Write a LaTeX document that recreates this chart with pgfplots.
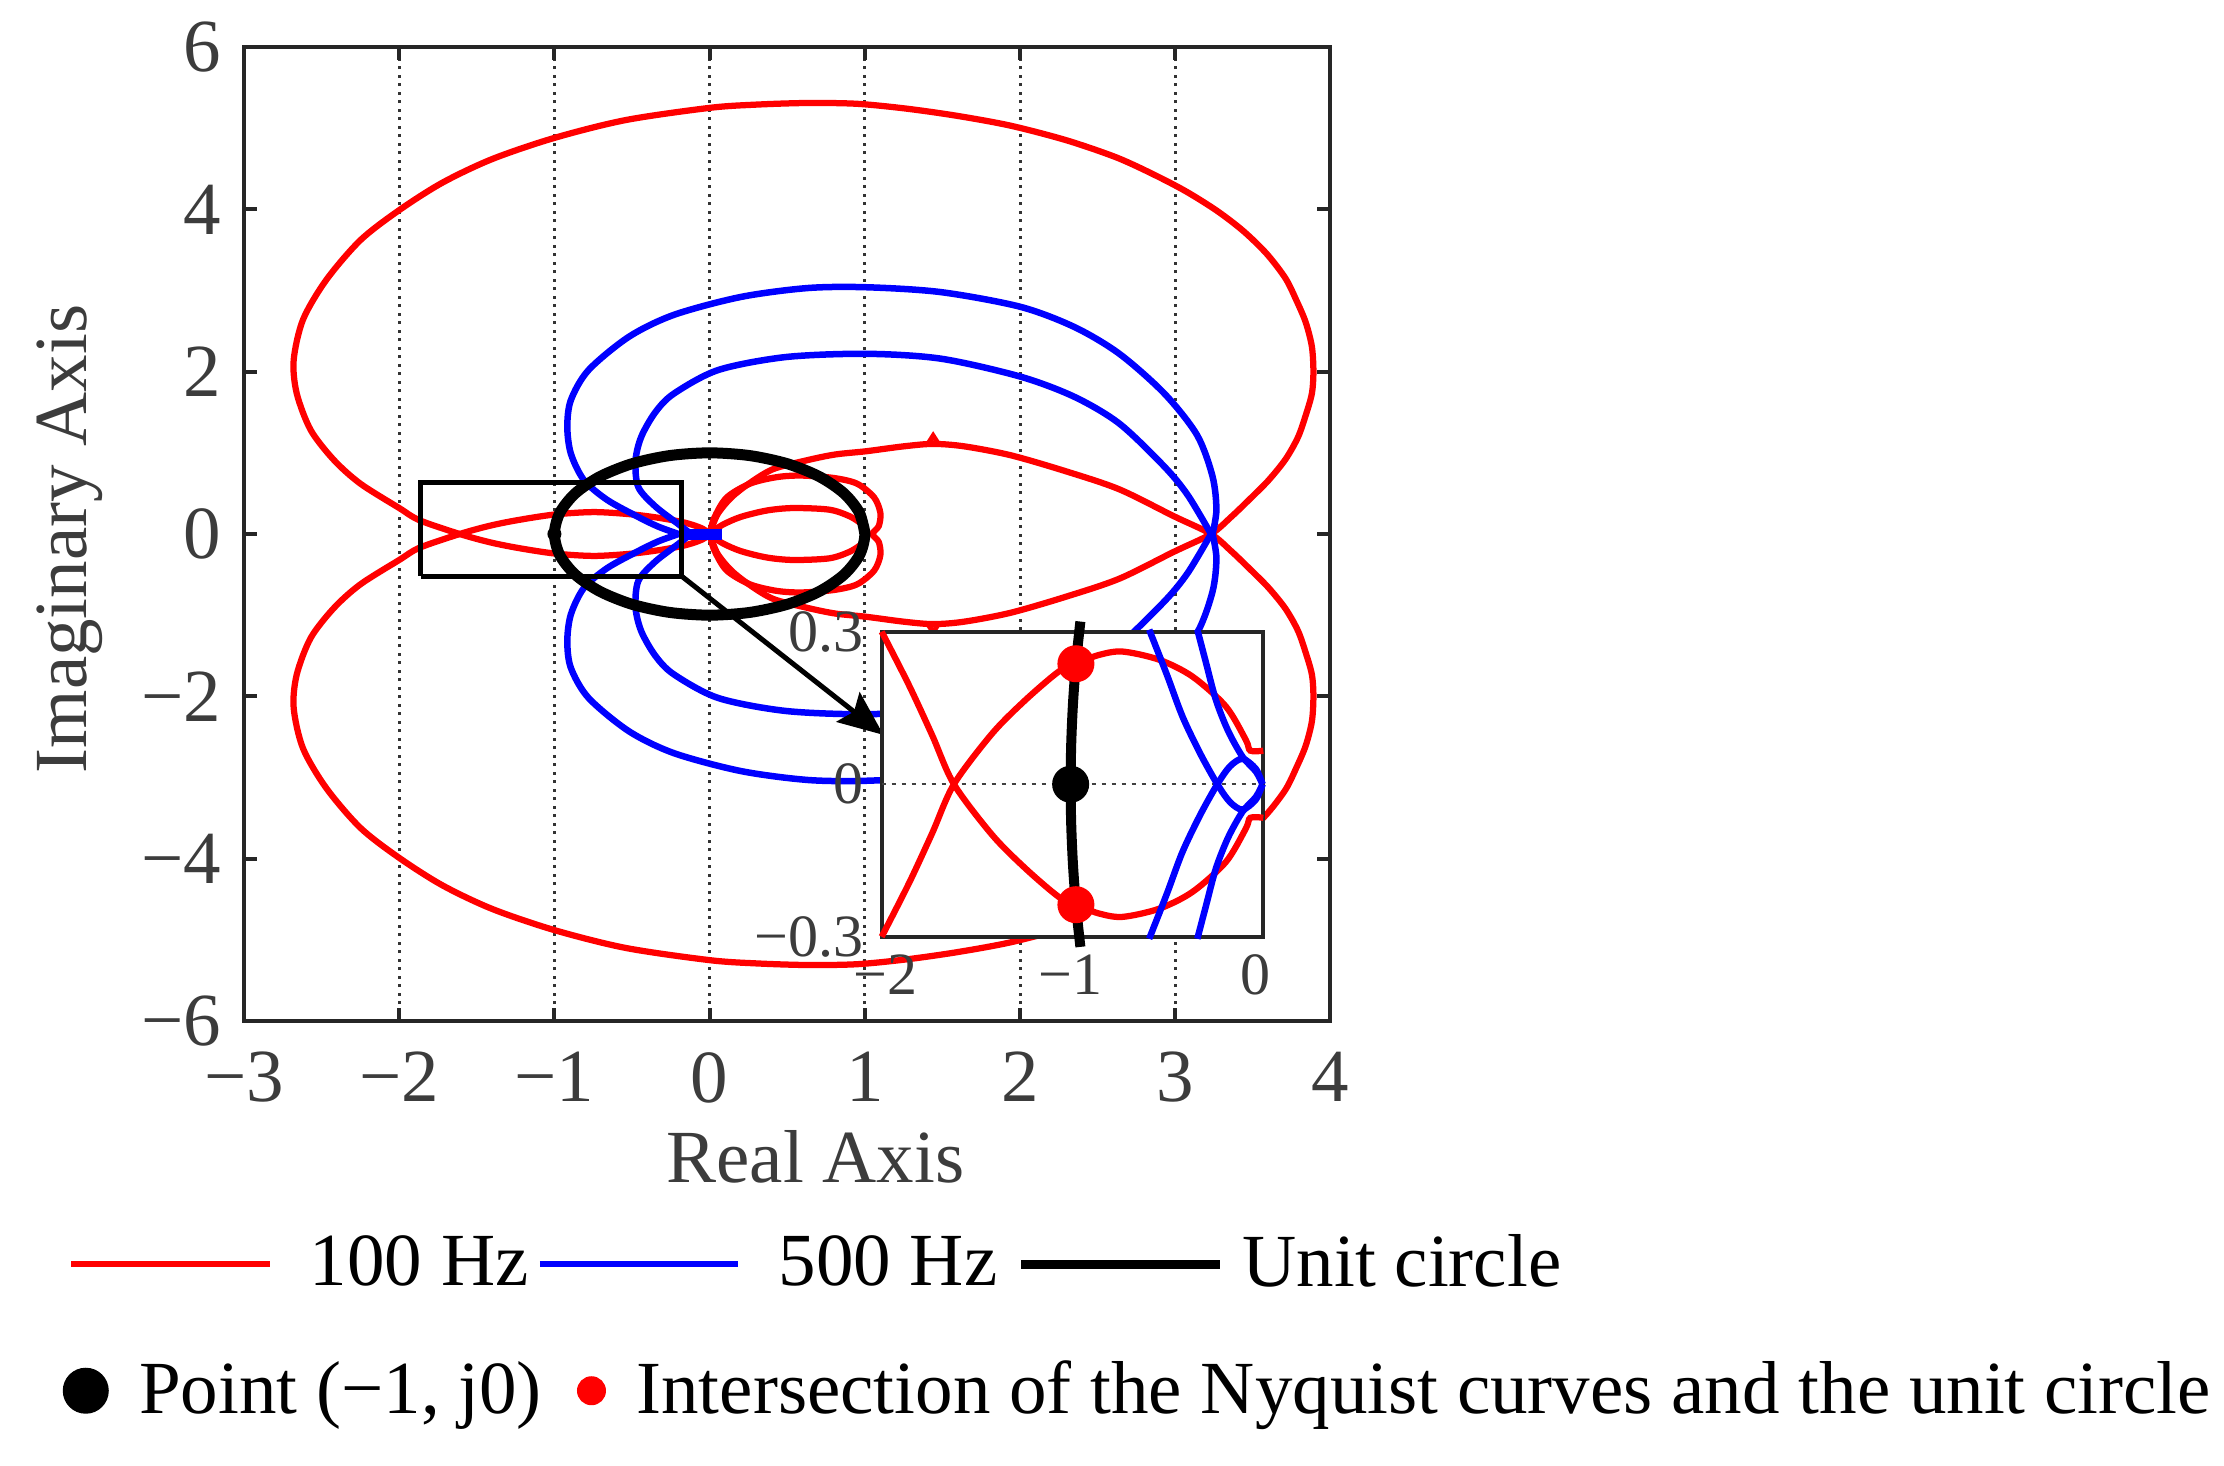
\documentclass[border=0pt]{standalone}
\usepackage{fontspec}
\setmainfont{Liberation Serif}
\usepackage{pgfplots}
\pgfplotsset{compat=1.18}
\usetikzlibrary{arrows.meta}
\definecolor{axgray}{RGB}{38,38,38}
\definecolor{lblgray}{RGB}{60,60,60}
\begin{document}
\begin{tikzpicture}
\useasboundingbox (-48.8pt,-88.8pt) rectangle (396pt,204.2pt);
\begin{axis}[
  at={(0pt,0pt)}, anchor=south west,
  scale only axis, width=217.3pt, height=194.8pt,
  xmin=-3, xmax=4, ymin=-6, ymax=6,
  xtick={-3,-2,-1,0,1,2,3,4}, ytick={-6,-4,-2,0,2,4,6},
  xticklabels={−3,−2,−1,0,1,2,3,4},
  yticklabels={−6,−4,−2,0,2,4,6},
  tick align=inside, major tick length=2.6pt,
  axis line style={axgray, line width=0.8pt},
  every tick/.style={axgray, line width=0.8pt},
  tick label style={font=\fontsize{15}{18}\selectfont, text=lblgray},
  xticklabel style={yshift=-2.7pt},
  yticklabel style={xshift=-1pt},
  xlabel={Real Axis}, ylabel={Imaginary Axis},
  label style={font=\fontsize{15}{18}\selectfont, text=lblgray},
  xlabel style={at={(axis description cs:0.526,-0.139)}, anchor=center},
  ylabel style={at={(axis description cs:-0.160,0.495)}, anchor=center},
  xmajorgrids,
  grid style={black!80, line width=0.6pt, dash pattern=on 0.6pt off 1.1pt},
  legend style={at={(axis description cs:-0.162,-0.2497)}, anchor=west,
    draw=none, fill=none, inner sep=0pt, outer sep=0pt,
    font=\fontsize{15}{18}\selectfont, legend columns=3,
    nodes={inner sep=0pt, text=black},
    /tikz/column 1/.style={column sep=7.4pt},
    /tikz/column 2/.style={column sep=1.6pt},
    /tikz/column 3/.style={column sep=7.4pt},
    /tikz/column 4/.style={column sep=3.85pt},
    /tikz/column 5/.style={column sep=3.7pt}},
  legend cell align=left,
  legend image code/.code={\draw[#1] (0pt,0pt) -- (39.7pt,0pt);},
]
\addlegendimage{red, line width=1.3pt}
\addlegendentry{100 Hz}
\addlegendimage{blue, line width=1.3pt}
\addlegendentry{500 Hz}
\addlegendimage{black, line width=1.8pt}
\addlegendentry{Unit circle}

% 100 Hz
\addplot[forget plot, red, line width=1.25pt, smooth] coordinates {
(0,0) (0.05,-0.24) (0.14,-0.45) (0.26,-0.63) (0.41,-0.80) (0.63,-0.91) (0.81,-0.98) (1.01,-1.02) (1.25,-1.08) (1.44,-1.11) (1.64,-1.08) (1.94,-0.97) (2.30,-0.77) (2.64,-0.55) (2.99,-0.22) (3.23,0)
(3.36,0.21) (3.48,0.43) (3.60,0.66) (3.71,0.92) (3.79,1.19) (3.84,1.46) (3.88,1.73) (3.89,2.00) (3.88,2.31) (3.84,2.61) (3.78,2.88) (3.71,3.15) (3.59,3.45) (3.44,3.73) (3.27,3.98) (3.07,4.22) (2.86,4.43) (2.62,4.64) (2.30,4.85) (1.94,5.03) (1.60,5.15) (1.27,5.24) (0.95,5.30) (0.63,5.31) (0.30,5.29) (0.0,5.25) (-0.54,5.10) (-1.00,4.88) (-1.40,4.62) (-1.72,4.33) (-2.00,3.99) (-2.25,3.62) (-2.47,3.13) (-2.62,2.64) (-2.68,2.14) (-2.66,1.73) (-2.57,1.28) (-2.42,0.91) (-2.25,0.62) (-2.00,0.32) (-1.87,0.17) (-1.61,0) (-1.42,-0.10) (-1.24,-0.17) (-1.00,-0.24) (-0.75,-0.27) (-0.52,-0.245) (-0.33,-0.20) (-0.16,-0.14) (-0.05,-0.07) (0,0)};
\addplot[forget plot, red, line width=1.25pt, smooth] coordinates {
(0,0) (0.05,0.24) (0.14,0.45) (0.26,0.63) (0.41,0.80) (0.63,0.91) (0.81,0.98) (1.01,1.02) (1.25,1.08) (1.44,1.11) (1.64,1.08) (1.94,0.97) (2.30,0.77) (2.64,0.55) (2.99,0.22) (3.23,0)
(3.36,-0.21) (3.48,-0.43) (3.60,-0.66) (3.71,-0.92) (3.79,-1.19) (3.84,-1.46) (3.88,-1.73) (3.89,-2.00) (3.88,-2.31) (3.84,-2.61) (3.78,-2.88) (3.71,-3.15) (3.59,-3.45) (3.44,-3.73) (3.27,-3.98) (3.07,-4.22) (2.86,-4.43) (2.62,-4.64) (2.30,-4.85) (1.94,-5.03) (1.60,-5.15) (1.27,-5.24) (0.95,-5.30) (0.63,-5.31) (0.30,-5.29) (0.0,-5.25) (-0.54,-5.10) (-1.00,-4.88) (-1.40,-4.62) (-1.72,-4.33) (-2.00,-3.99) (-2.25,-3.62) (-2.47,-3.13) (-2.62,-2.64) (-2.68,-2.14) (-2.66,-1.73) (-2.57,-1.28) (-2.42,-0.91) (-2.25,-0.62) (-2.00,-0.32) (-1.87,-0.17) (-1.61,0) (-1.42,0.10) (-1.24,0.17) (-1.00,0.24) (-0.75,0.27) (-0.52,0.245) (-0.33,0.20) (-0.16,0.14) (-0.05,0.07) (0,0)};
\addplot[forget plot, red, line width=1.0pt] coordinates {(1.41,1.12) (1.44,1.21) (1.47,1.12)};
\addplot[forget plot, red, line width=1.0pt] coordinates {(1.41,-1.12) (1.44,-1.21) (1.47,-1.12)};
\addplot[forget plot, red, line width=1.25pt, smooth] coordinates {
(0,0) (0.08,0.11) (0.2,0.21) (0.37,0.29) (0.54,0.32) (0.77,0.30) (0.90,0.22) (0.98,0.12) (1.02,0) (0.98,-0.12) (0.90,-0.22) (0.77,-0.30) (0.54,-0.32) (0.37,-0.29) (0.2,-0.21) (0.08,-0.11) (0,0)};
\addplot[forget plot, red, line width=1.25pt, smooth] coordinates {
(0,0) (0.03,0.2) (0.11,0.45) (0.26,0.62) (0.43,0.70) (0.59,0.72) (0.80,0.69) (0.95,0.62) (1.06,0.45) (1.10,0.26) (1.09,0.10) (1.05,0) (1.09,-0.10) (1.10,-0.26) (1.06,-0.45) (0.95,-0.62) (0.80,-0.69) (0.59,-0.72) (0.43,-0.70) (0.26,-0.62) (0.11,-0.45) (0.03,-0.2) (0,0)};

% 500 Hz
\addplot[forget plot, blue, line width=1.3pt, smooth] coordinates {
(-0.2,0) (-0.33,0.09) (-0.46,0.21) (-0.66,0.42) (-0.81,0.665) (-0.894,0.99) (-0.917,1.32) (-0.894,1.65) (-0.78,2.02) (-0.52,2.43) (-0.23,2.70) (0.20,2.92) (0.63,3.03) (1.01,3.04) (1.49,2.98) (2.0,2.80) (2.35,2.55) (2.64,2.22) (2.93,1.73) (3.14,1.22) (3.24,0.71) (3.265,0.30) (3.24,0)};
\addplot[forget plot, blue, line width=1.3pt, smooth] coordinates {
(-0.2,0) (-0.33,-0.09) (-0.46,-0.21) (-0.66,-0.42) (-0.81,-0.665) (-0.894,-0.99) (-0.917,-1.32) (-0.894,-1.65) (-0.78,-2.02) (-0.52,-2.43) (-0.23,-2.70) (0.20,-2.92) (0.63,-3.03) (1.01,-3.04) (1.49,-2.98) (2.0,-2.80) (2.35,-2.55) (2.64,-2.22) (2.93,-1.73) (3.14,-1.22) (3.24,-0.71) (3.265,-0.30) (3.24,0)};
\addplot[forget plot, blue, line width=1.3pt, smooth] coordinates {
(-0.12,0) (-0.2,0.12) (-0.35,0.34) (-0.46,0.58) (-0.477,0.91) (-0.44,1.2) (-0.35,1.50) (-0.23,1.73) (0.055,2.02) (0.49,2.18) (1.01,2.22) (1.49,2.16) (2.0,1.94) (2.35,1.69) (2.64,1.36) (2.93,0.83) (3.08,0.48) (3.23,0)};
\addplot[forget plot, blue, line width=1.3pt, smooth] coordinates {
(-0.12,0) (-0.2,-0.12) (-0.35,-0.34) (-0.46,-0.58) (-0.477,-0.91) (-0.44,-1.2) (-0.35,-1.50) (-0.23,-1.73) (0.055,-2.02) (0.49,-2.18) (1.01,-2.22) (1.49,-2.16) (2.0,-1.94) (2.35,-1.69) (2.64,-1.36) (2.93,-0.83) (3.08,-0.48) (3.23,0)};
\addplot[forget plot, blue, line width=2.2pt] coordinates {(-0.2,0) (0.08,0)};

% unit circle
\addplot[forget plot, black, line width=2.2pt, smooth] coordinates {
(1,0) (0.9659,0.2588) (0.8660,0.5) (0.7071,0.7071) (0.5,0.8660) (0.2588,0.9659) (0,1) (-0.2588,0.9659) (-0.5,0.8660) (-0.7071,0.7071) (-0.8660,0.5) (-0.9659,0.2588) (-1,0) (-0.9659,-0.2588) (-0.8660,-0.5) (-0.7071,-0.7071) (-0.5,-0.8660) (-0.2588,-0.9659) (0,-1) (0.2588,-0.9659) (0.5,-0.8660) (0.7071,-0.7071) (0.8660,-0.5) (0.9659,-0.2588) (1,0) (0.9659,0.2588)};
\addplot[forget plot, only marks, mark=*, mark size=1.2pt, black] coordinates {(-1,0)};

% zoom box and arrow
\addplot[forget plot, black, line width=1pt, line join=miter] coordinates {(-1.86,-0.52) (-0.18,-0.52) (-0.18,0.63) (-1.86,0.63) (-1.86,-0.52)};
\draw[black, line width=1pt, -{Stealth[length=9pt, width=7.5pt, inset=1.5pt]}] (axis cs:-0.18,-0.52) -- (axis cs:1.12,-2.475);
\end{axis}

\begin{axis}[
  at={(127.54pt,16.86pt)}, anchor=south west,
  scale only axis, width=76.32pt, height=61pt,
  xmin=-2.02, xmax=0.04, ymin=-0.3, ymax=0.3,
  xtick={-2,-1,0}, xticklabels={−2,−1,0},
  ytick={-0.3,0,0.3}, yticklabels={−0.3,0,0.3},
  major tick length=0pt,
  axis line style={axgray, line width=0.8pt},
  axis background/.style={fill=white},
  tick label style={font=\fontsize{12}{14}\selectfont, text=lblgray, inner sep=0pt},
  xticklabel style={yshift=-3.4pt},
  yticklabel style={xshift=-3.4pt},
  clip=false,
  legend style={at={(axis description cs:-2.1434,-1.4885)}, anchor=west,
    draw=none, fill=none, inner sep=0pt, outer sep=0pt,
    font=\fontsize{15}{18}\selectfont, legend columns=2,
    nodes={inner sep=0pt, text=black},
    /tikz/every odd column/.append style={column sep=6.3pt},
    /tikz/every even column/.append style={column sep=7.2pt}},
  legend cell align=left,
  legend image code/.code={\draw[#1] plot coordinates {(0pt,0pt)};},
]
\addlegendimage{only marks, mark=*, mark size=4.4pt, black}
\addlegendentry{Point (−1, j0)}
\addlegendimage{only marks, mark=*, mark size=2.7pt, red}
\addlegendentry{Intersection of the Nyquist curves and the unit circle}

\addplot[forget plot, black!75, line width=0.4pt, dash pattern=on 0.8pt off 1.2pt] coordinates {(-2.02,0) (0.04,0)};
\addplot[forget plot, red, line width=1.25pt, smooth] coordinates {
(-2.02,-0.30) (-1.873,-0.195) (-1.747,-0.096) (-1.63,0) (-1.423,0.100) (-1.243,0.166) (-1.063,0.222) (-0.9715,0.237) (-0.85,0.254) (-0.721,0.261) (-0.523,0.245) (-0.343,0.212) (-0.162,0.153) (-0.054,0.087) (-0.03,0.066) (0.04,0.066)};
\addplot[forget plot, red, line width=1.25pt, smooth] coordinates {
(-2.02,0.30) (-1.873,0.195) (-1.747,0.096) (-1.63,0) (-1.423,-0.100) (-1.243,-0.166) (-1.063,-0.222) (-0.9715,-0.237) (-0.85,-0.254) (-0.721,-0.261) (-0.523,-0.245) (-0.343,-0.212) (-0.162,-0.153) (-0.054,-0.087) (-0.03,-0.066) (0.04,-0.066)};
\addplot[forget plot, blue, line width=1.3pt, smooth] coordinates {
(-0.576,0.304) (-0.48,0.215) (-0.396,0.133) (-0.30,0.06) (-0.208,0) (-0.14,-0.035) (-0.072,-0.05) (0.0,-0.03) (0.036,0)};
\addplot[forget plot, blue, line width=1.3pt, smooth] coordinates {
(-0.576,-0.304) (-0.48,-0.215) (-0.396,-0.133) (-0.30,-0.06) (-0.208,0) (-0.14,0.035) (-0.072,0.05) (0.0,0.03) (0.036,0)};
\addplot[forget plot, blue, line width=1.3pt, smooth] coordinates {
(-0.316,0.304) (-0.27,0.24) (-0.216,0.166) (-0.15,0.105) (-0.072,0.054) (0.0,0.025) (0.036,0)};
\addplot[forget plot, blue, line width=1.3pt, smooth] coordinates {
(-0.316,-0.304) (-0.27,-0.24) (-0.216,-0.166) (-0.15,-0.105) (-0.072,-0.054) (0.0,-0.025) (0.036,0)};
\addplot[forget plot, black, line width=2pt, smooth] coordinates {
(-0.9474,0.32) (-0.9708,0.24) (-0.9871,0.16) (-0.9968,0.08) (-1,0) (-0.9968,-0.08) (-0.9871,-0.16) (-0.9708,-0.24) (-0.9474,-0.32)};
\addplot[forget plot, only marks, mark=*, mark size=3.5pt, black] coordinates {(-1,0)};
\addplot[forget plot, only marks, mark=*, mark size=3.5pt, red] coordinates {(-0.9715,0.237) (-0.9715,-0.237)};
\end{axis}
\end{tikzpicture}
\end{document}
